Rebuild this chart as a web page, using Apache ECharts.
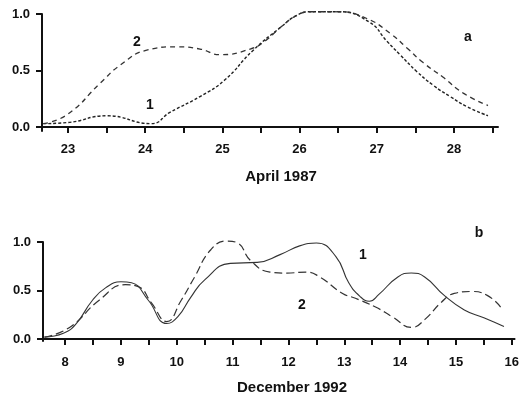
<!DOCTYPE html>
<html>
<head>
<meta charset="utf-8">
<script src="https://cdn.jsdelivr.net/npm/echarts@6/dist/echarts.min.js"></script>
<style>
    html, body { margin: 0; padding: 0; background: #fff; }
    #main { width: 522px; height: 401px; }
</style>
</head>
<body>
<div id="main"></div>
<script>
// panel a: April 1987
var daysA1 = [22.68, 23.0, 23.5, 24.08, 24.32, 24.71, 25.02, 25.4, 25.75, 25.97, 26.15, 26.5, 26.9, 27.13, 27.3, 27.52, 27.73, 27.95, 28.17, 28.44];
var valsA1 = [0.03, 0.04, 0.10, 0.03, 0.13, 0.27, 0.41, 0.68, 0.88, 0.99, 1.02, 1.02, 0.93, 0.76, 0.64, 0.49, 0.37, 0.27, 0.18, 0.10];
var daysA2 = [22.68, 22.99, 23.42, 23.68, 24.02, 24.41, 24.71, 24.97, 25.36, 25.55, 25.75, 25.97, 26.15, 26.5, 26.87, 27.17, 27.39, 27.6, 27.86, 28.12, 28.44];
var valsA2 = [0.03, 0.11, 0.39, 0.55, 0.68, 0.71, 0.69, 0.64, 0.69, 0.76, 0.88, 0.99, 1.02, 1.02, 0.96, 0.83, 0.70, 0.57, 0.44, 0.30, 0.19];

// panel b: December 1992
var daysB1 = [7.63, 7.97, 8.2, 8.49, 8.73, 9.0, 9.19, 9.49, 9.82, 10.02, 10.25, 10.5, 10.96, 11.44, 11.85, 12.2, 12.5, 12.85, 13.08, 13.28, 13.45, 13.62, 13.96, 14.2, 14.44, 14.79, 15.15, 15.5, 15.86];
var valsB1 = [0.02, 0.06, 0.16, 0.40, 0.53, 0.59, 0.58, 0.40, 0.16, 0.23, 0.43, 0.61, 0.78, 0.79, 0.87, 0.96, 0.99, 0.85, 0.58, 0.44, 0.39, 0.46, 0.64, 0.68, 0.64, 0.45, 0.30, 0.22, 0.13];
var daysB2 = [7.63, 8.08, 8.61, 9.08, 9.31, 9.55, 9.82, 10.08, 10.32, 10.61, 10.9, 11.09, 11.32, 11.67, 11.97, 12.32, 12.56, 12.97, 13.2, 13.56, 13.86, 14.21, 14.44, 14.74, 14.97, 15.27, 15.56, 15.8];
var valsB2 = [0.02, 0.12, 0.40, 0.56, 0.54, 0.37, 0.18, 0.40, 0.64, 0.92, 1.01, 0.99, 0.81, 0.69, 0.68, 0.69, 0.64, 0.47, 0.42, 0.33, 0.23, 0.12, 0.20, 0.38, 0.47, 0.49, 0.45, 0.33];

var ticksA = [23, 23.5, 24, 24.5, 25, 25.5, 26, 26.5, 27, 27.5, 28, 28.5];
var labelsA = [23, 24, 25, 26, 27, 28];
var ticksB = [8, 8.5, 9, 9.5, 10, 10.5, 11, 11.5, 12, 12.5, 13, 13.5, 14, 14.5, 15, 15.5, 16];
var labelsB = [8, 9, 10, 11, 12, 13, 14, 15, 16];
var yTicks = [0, 0.5, 1];

function pairs(xs, ys) {
    var out = [];
    for (var i = 0; i < xs.length; i++) {
        out.push([xs[i], ys[i]]);
    }
    return out;
}

var FONT = '"Liberation Sans", Arial, sans-serif';
var axisLine = { show: true, lineStyle: { color: '#111', width: 2 } };

function xAxis(idx, min, max, ticks, labels, margin) {
    return {
        gridIndex: idx, type: 'value', min: min, max: max,
        axisLine: axisLine,
        axisTick: { show: true, customValues: ticks, length: 6, lineStyle: { color: '#111', width: 2 } },
        axisLabel: { customValues: labels, margin: margin, color: '#111', fontWeight: 'bold', fontSize: 13, fontFamily: FONT },
        splitLine: { show: false }
    };
}
function yAxis(idx, min) {
    return {
        gridIndex: idx, type: 'value', min: min, max: 1,
        axisLine: axisLine,
        axisTick: { show: true, customValues: yTicks, length: 6, lineStyle: { color: '#111', width: 2 } },
        axisLabel: {
            customValues: yTicks, margin: 12, color: '#111', fontWeight: 'bold', fontSize: 13, fontFamily: FONT,
            formatter: function (v) { return v.toFixed(1); }
        },
        splitLine: { show: false }
    };
}
function txt(x, y, s, size) {
    return {
        type: 'text', x: x, y: y,
        style: { text: s, fill: '#111', font: 'bold ' + size + 'px ' + FONT, textAlign: 'center', textVerticalAlign: 'middle' }
    };
}

var myChart = echarts.init(document.getElementById('main'));
var option = {
    animation: false,
    backgroundColor: '#fff',
    grid: [
        { left: 42, right: 24, top: 14, height: 117 },
        { left: 43, right: 1, top: 242, height: 99 }
    ],
    xAxis: [
        xAxis(0, 22.663, 28.57, ticksA, labelsA, 12),
        xAxis(1, 7.604, 16.05, ticksB, labelsB, 15)
    ],
    yAxis: [yAxis(0, -0.035), yAxis(1, -0.02)],
    series: [
        { type: 'line', xAxisIndex: 0, yAxisIndex: 0, data: pairs(daysA1, valsA1), smooth: true, symbol: 'none', clip: false,
          lineStyle: { color: '#222', width: 1.4, type: [3, 2] } },
        { type: 'line', xAxisIndex: 0, yAxisIndex: 0, data: pairs(daysA2, valsA2), smooth: true, symbol: 'none', clip: false,
          lineStyle: { color: '#333', width: 1.3, type: [5, 4] } },
        { type: 'line', xAxisIndex: 1, yAxisIndex: 1, data: pairs(daysB1, valsB1), smooth: true, symbol: 'none', clip: false,
          lineStyle: { color: '#333', width: 1.1, type: 'solid' } },
        { type: 'line', xAxisIndex: 1, yAxisIndex: 1, data: pairs(daysB2, valsB2), smooth: true, symbol: 'none', clip: false,
          lineStyle: { color: '#333', width: 1.2, type: [8, 4] } }
    ],
    graphic: [
        txt(281, 177, 'April 1987', 15),
        txt(292, 388, 'December 1992', 15),
        txt(468, 37, 'a', 14),
        txt(479, 233, 'b', 14),
        txt(137, 42, '2', 14),
        txt(150, 105, '1', 14),
        txt(363, 255, '1', 14),
        txt(302, 305, '2', 14)
    ]
};
myChart.setOption(option);
</script>
</body>
</html>
